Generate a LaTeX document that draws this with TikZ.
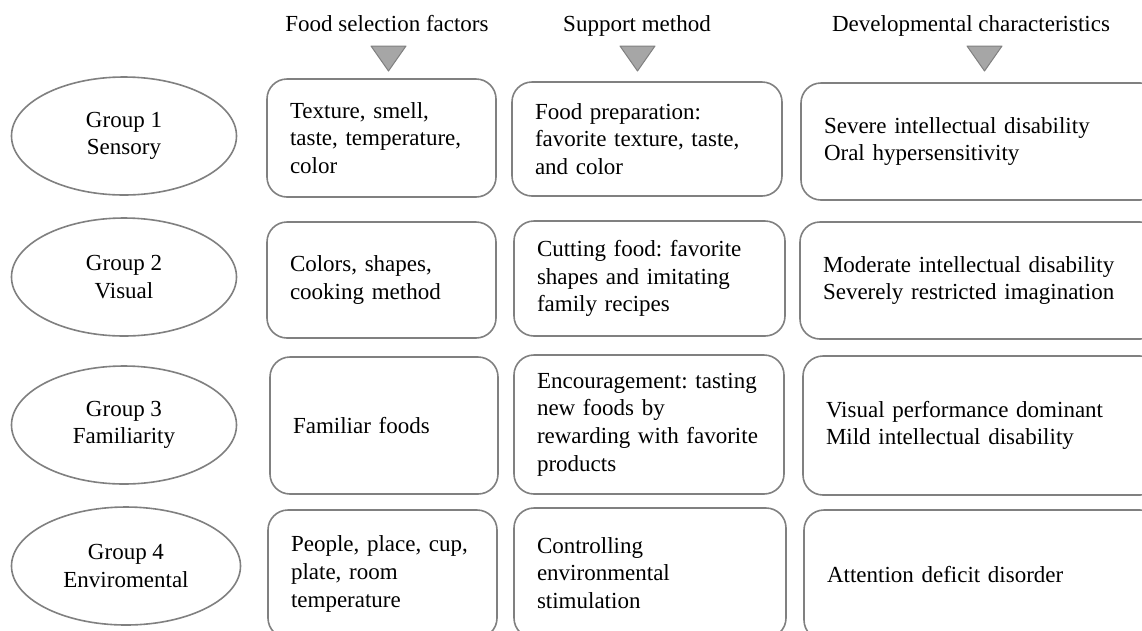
\documentclass[tikz,border=0pt]{standalone}
\usepackage{fontspec}
\setmainfont{Liberation Serif}
\usetikzlibrary{shapes.geometric}
\definecolor{boxgray}{HTML}{808080}
\definecolor{trifill}{HTML}{A6A6A6}
\frenchspacing
\tikzset{
  txt/.style={font=\fontsize{23}{27.6}\selectfont\frenchspacing, text=black},
  box/.style={txt, draw=boxgray, line width=1.6pt, rounded corners=20pt, align=left, inner xsep=23pt, inner ysep=0pt},
  grp/.style={txt, ellipse, draw=boxgray, line width=1.6pt, align=center, minimum width=225pt, minimum height=118pt, inner sep=0pt},
  hdr/.style={txt, inner sep=0pt, anchor=base},
  tri/.style={fill=trifill, draw=boxgray, line width=1pt, line join=round}
}
\begin{document}
\begin{tikzpicture}[x=1pt,y=-1pt]
\useasboundingbox (0,0) rectangle (1142,630);
\clip (0,0) rectangle (1142,630);
\fill[white] (0,0) rectangle (1142,630);

% headers
\node[hdr] (h1) at (387,31) {Food selection factors};
\node[hdr] (h2) at (637,31) {Support method};
\node[hdr] (h3) at (971,31) {Developmental characteristics};
\draw[tri] (371,46) -- (406,46) -- (388.5,71) -- cycle;
\draw[tri] (620,46) -- (655,46) -- (637.5,71) -- cycle;
\draw[tri] (967,46) -- (1002,46) -- (984.5,71) -- cycle;

% groups
\node[grp] (g1) at (124,136) {Group 1\\Sensory};
\node[grp] (g2) at (124,277) {Group 2\\Visual};
\node[grp] (g3) at (124,425) {Group 3\\Familiarity};
\node[grp, minimum width=229pt] (g4) at (126,566) {Group 4\\Enviromental};

% column 1: food selection factors
\node[box, minimum width=229pt, minimum height=118pt, text width=183pt] (f1) at (381.5,138) {Texture, smell,\\taste, temperature,\\color};
\node[box, minimum width=229pt, minimum height=116pt, text width=183pt] (f2) at (381.5,280) {Colors, shapes,\\cooking method};
\node[box, minimum width=228pt, minimum height=137pt, text width=182pt] (f3) at (384,425.5) {Familiar foods};
\node[box, minimum width=229pt, minimum height=128pt, text width=183pt] (f4) at (382.5,574) {People, place, cup,\\plate, room\\temperature};

% column 2: support method
\node[box, minimum width=270pt, minimum height=114pt, text width=224pt] (s1) at (647,139) {Food preparation:\\favorite texture, taste,\\and color};
\node[box, minimum width=271pt, minimum height=115pt, text width=225pt] (s2) at (649.5,278.5) {Cutting food: favorite\\shapes and imitating\\family recipes};
\node[box, minimum width=270pt, minimum height=139pt, text width=224pt] (s3) at (649,424.5) {Encouragement: tasting\\new foods by\\rewarding with favorite\\products};
\node[box, minimum width=272pt, minimum height=130pt, text width=226pt] (s4) at (650,573) {Controlling\\environmental\\stimulation};

% column 3: developmental characteristics
\node[box, minimum width=359pt, minimum height=117pt, text width=313pt] (d1) at (980.5,141.5) {Severe intellectual disability\\Oral hypersensitivity};
\node[box, minimum width=360pt, minimum height=117pt, text width=314pt] (d2) at (980,280.5) {Moderate intellectual disability\\Severely restricted imagination};
\node[box, minimum width=357pt, minimum height=139pt, text width=311pt] (d3) at (981.5,425.5) {Visual performance dominant\\Mild intellectual disability};
\node[box, minimum width=356pt, minimum height=130pt, text width=310pt] (d4) at (982,575) {Attention deficit disorder};
\end{tikzpicture}
\end{document}
